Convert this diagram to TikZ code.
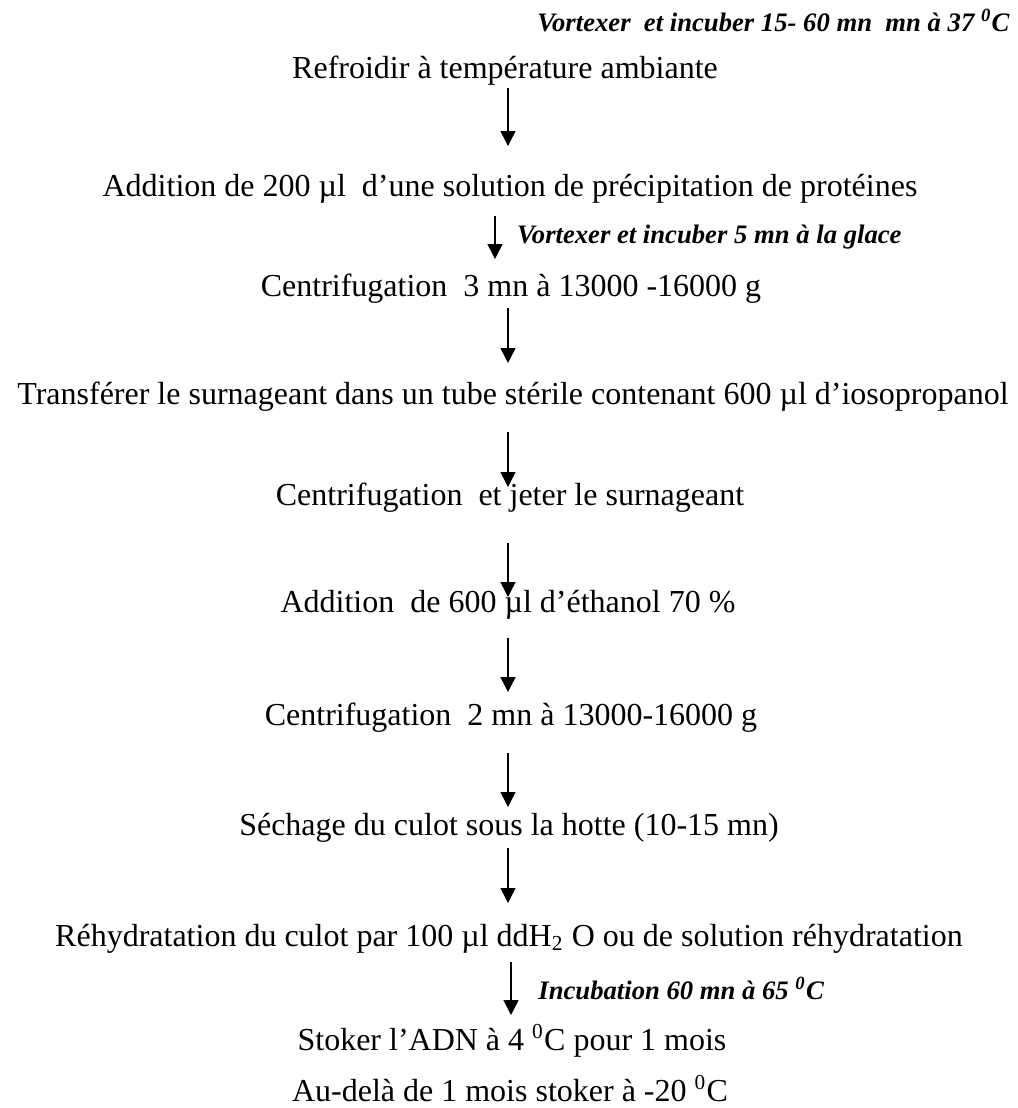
\documentclass[tikz,border=0pt]{standalone}
\usepackage{fontspec}
\setmainfont{Liberation Serif}
\usetikzlibrary{arrows.meta,positioning}
\tikzset{
  stage/.style={inner sep=0pt,anchor=base,font=\fontsize{12}{14}\selectfont},
  note/.style={inner sep=0pt,font=\fontsize{10}{12}\selectfont\bfseries\itshape},
  flow/.style={line width=0.55pt,-{Triangle[width=5.6pt,length=5.6pt]}}
}
\begin{document}
\begin{tikzpicture}[x=0.375pt,y=-0.375pt]
\useasboundingbox (0,0) rectangle (1018,1108);
\node[note,anchor=base east] (vortex) at (1010,31) {Vortexer~ et incuber 15- 60 mn~ mn à 37 \textsuperscript{0}C};
\node[stage] (cool) at (505,78) {Refroidir à température ambiante};
\node[stage] (prot) at (510,196) {Addition de 200 µl~ d’une solution de précipitation de protéines};
\node[stage] (spina) at (511,296) {Centrifugation~ 3 mn à 13000 -16000 g};
\node[stage] (trans) at (513,404) {Transférer le surnageant dans un tube stérile contenant 600 µl d’iosopropanol};
\node[stage] (spinb) at (510,505) {Centrifugation~ et jeter le surnageant};
\node[stage] (wash) at (508,612) {Addition~ de 600 µl d’éthanol 70 \%};
\node[stage] (spinc) at (511,725) {Centrifugation~ 2 mn à 13000-16000 g};
\node[stage] (dry) at (509,835) {Séchage du culot sous la hotte (10-15 mn)};
\node[stage] (rehyd) at (509,946) {Réhydratation du culot par 100 µl ddH\textsubscript{2} O ou de solution réhydratation};
\node[stage] (store) at (512,1050) {Stoker l’ADN à 4 \textsuperscript{0}C pour 1 mois};
\node[stage] (freeze) at (510,1101) {Au-delà de 1 mois stoker à -20 \textsuperscript{0}C};
% arrows between the steps
\draw[flow] ([shift={(3,10)}]cool.base) -- ++(0,58);
\draw[flow] ([shift={(-15,20)}]prot.base) -- ++(0,43)
  node[note,midway,right=8pt] (ice) {Vortexer et incuber 5 mn à la glace};
\draw[flow] ([shift={(-3,12)}]spina.base) -- ++(0,55);
\draw[flow] ([shift={(-5,28)}]trans.base) -- ++(0,55);
\draw[flow] ([shift={(-2,38)}]spinb.base) -- ++(0,54);
\draw[flow] ([shift={(0,26)}]wash.base) -- ++(0,54);
\draw[flow] ([shift={(-3,28)}]spinc.base) -- ++(0,54);
\draw[flow] ([shift={(-1,13)}]dry.base) -- ++(0,55);
\draw[flow] ([shift={(2,16)}]rehyd.base) -- ++(0,53)
  node[note,midway,right=10pt] (incub) {Incubation 60 mn à 65 \textsuperscript{0}C};
\end{tikzpicture}
\end{document}
